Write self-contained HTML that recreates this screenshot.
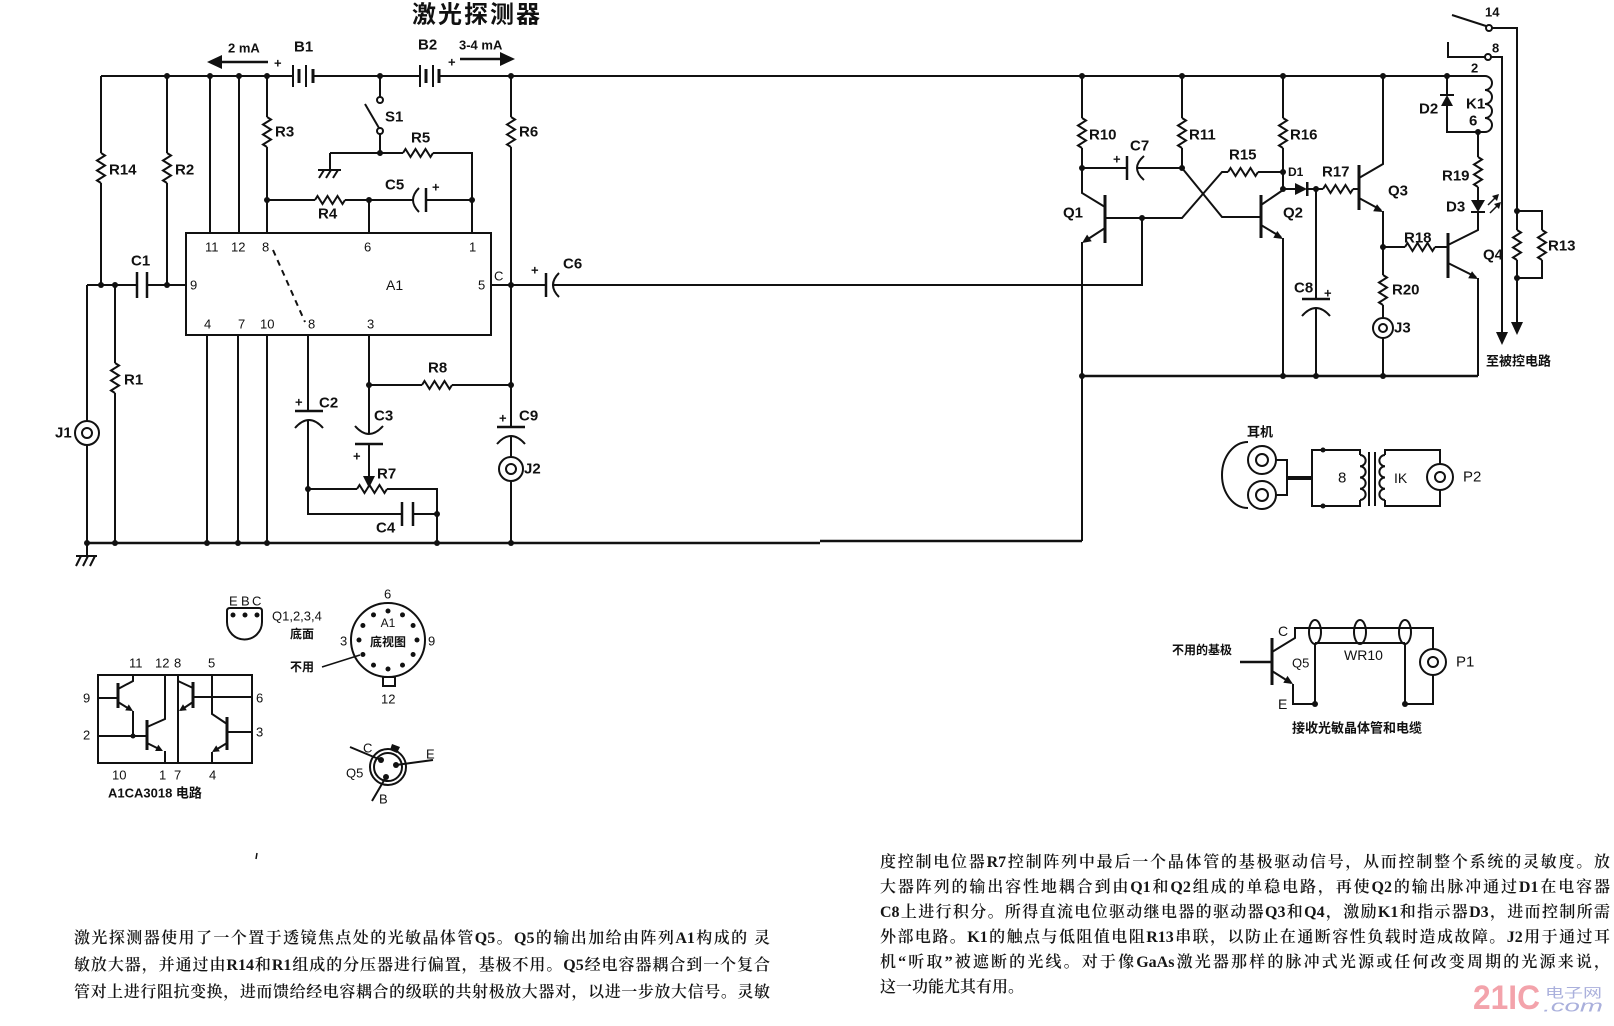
<!DOCTYPE html>
<html>
<head>
<meta charset="utf-8">
<style>
html,body{margin:0;padding:0;background:#fff;}
body{width:1614px;height:1026px;position:relative;overflow:hidden;}
svg{position:absolute;left:0;top:0;}
svg text{dominant-baseline:central;font-family:"Liberation Sans","Noto Sans CJK SC",sans-serif;fill:#111;}
.lb{font-size:15px;font-weight:bold;}
.pn{font-size:13px;}
.cj{font-size:12px;font-family:"Liberation Sans","Noto Sans CJK SC",sans-serif;font-weight:bold;}
.p{position:absolute;font-family:"Liberation Serif","Noto Serif CJK SC",serif;font-size:16px;line-height:20px;height:20px;text-align:justify;text-align-last:justify;font-weight:600;color:#151515;overflow:visible;}
.l{left:74px;width:696px;}
.r{left:880px;width:730px;}
</style>
</head>
<body>
<svg width="1614" height="1026" viewBox="0 0 1614 1026">
<!-- Title -->
<text x="412" y="12" style="font-size:24px;font-weight:bold;letter-spacing:2px;font-family:'Noto Sans CJK SC',sans-serif">激光探测器</text>

<g fill="none" stroke="#111" stroke-width="2">
<!-- top rail -->
<path d="M101,76 H293 M313,76 H420 M440,76 H1485"/>
<!-- batteries -->
<path d="M293,65 V87 M306,65 V87 M420,65 V87 M433,65 V87"/>
<path d="M299,69 V83 M313,69 V83 M426,69 V83 M439,69 V83" stroke-width="3"/>
<!-- arrows lines -->
<path d="M222,62 H268 M460,59 H500" stroke-width="2.5"/>
<!-- R14 R2 -->
<path d="M101,76 V153 M101,183 V285 M167,76 V153 M167,183 V285"/>
<path d="M101,153 L105,155.5 L97,160.5 L105,165.5 L97,170.5 L105,175.5 L97,180.5 L101,183"/>
<path d="M167,153 L171,155.5 L163,160.5 L171,165.5 L163,170.5 L171,175.5 L163,180.5 L167,183"/>
<!-- pins 11 12 -->
<path d="M210,76 V233 M239,76 V233"/>
<!-- R3 -->
<path d="M267,76 V117 M267,147 V233"/>
<path d="M267,117 L271,119.5 L263,124.5 L271,129.5 L263,134.5 L271,139.5 L263,144.5 L267,147"/>
<!-- S1 -->
<path d="M380,76 V97 M380,134 V153 M379,128 L365,104"/>
<circle cx="380" cy="100" r="3" fill="#fff"/>
<circle cx="380" cy="131" r="3" fill="#fff"/>
<!-- R5 row -->
<path d="M330,153 H403 M433,153 H472 V233"/>
<path d="M403,153 L405.5,149 L410.5,157 L415.5,149 L420.5,157 L425.5,149 L430.5,157 L433,153"/>
<!-- ground at S1 -->
<path d="M330,153 V170 M318,170 H341 M324,170 L319,178 M331,170 L326,178 M338,170 L333,178"/>
<!-- R4 row / C5 -->
<path d="M267,200 H315 M345,200 H413 M426,200 H472"/>
<path d="M315,200 L317.5,196 L322.5,204 L327.5,196 L332.5,204 L337.5,196 L342.5,204 L345,200"/>
<path d="M419,188 Q407,200 419,212"/>
<path d="M426,188 V212" stroke-width="2.5"/>
<path d="M369,200 V233"/>
<!-- R6 column -->
<path d="M511,76 V117 M511,147 V427 M511,436 V457 M511,481 V543"/>
<path d="M511,117 L515,119.5 L507,124.5 L515,129.5 L507,134.5 L515,139.5 L507,144.5 L511,147"/>
<!-- A1 box -->
<rect x="186" y="233" width="305" height="102"/>
<path d="M273,250 L305,322" stroke-dasharray="6,5"/>
<!-- pin 9 row / C1 -->
<path d="M87,285 H137 M147,285 H186 M87,285 V421 M87,445 V543"/>
<path d="M137,272 V298 M147,272 V298" stroke-width="2.5"/>
<!-- J1 -->
<circle cx="87" cy="433" r="12"/>
<circle cx="87" cy="433" r="5"/>
<!-- R1 -->
<path d="M115,285 V363 M115,393 V543"/>
<path d="M115,363 L119,365.5 L111,370.5 L119,375.5 L111,380.5 L119,385.5 L111,390.5 L115,393"/>
<!-- pin5 / C6 -->
<path d="M491,285 H546 M553,285 H1142 V218"/>
<path d="M546,273 V297" stroke-width="2.5"/>
<path d="M559,273 Q547,285 559,297"/>
<!-- bottom pins -->
<path d="M207,335 V543 M238,335 V543 M267,335 V543"/>
<!-- pin 8 / C2 / C4 -->
<path d="M308,335 V411 M308,420 V514 H402 M413,514 H437"/>
<path d="M295,411 H323" stroke-width="2.5"/>
<path d="M295,428 Q309,412 323,428"/>
<path d="M402,502 V526 M413,502 V526" stroke-width="2.5"/>
<!-- pin 3 / C3 -->
<path d="M369,335 V434 M369,444 V478"/>
<path d="M355,426 Q369,442 383,426"/>
<path d="M355,444 H383" stroke-width="2.5"/>
<!-- R7 -->
<path d="M308,489 H357 M387,489 H437 V543"/>
<path d="M357,489 L359.5,485 L364.5,493 L369.5,485 L374.5,493 L379.5,485 L384.5,493 L387,489"/>
<!-- R8 -->
<path d="M369,385 H422 M452,385 H511"/>
<path d="M422,385 L424.5,381 L429.5,389 L434.5,381 L439.5,389 L444.5,381 L449.5,389 L452,385"/>
<!-- C9 / J2 -->
<path d="M497,427 H525" stroke-width="2.5"/>
<path d="M497,444 Q511,428 525,444"/>
<circle cx="511" cy="469" r="12"/>
<circle cx="511" cy="469" r="5"/>
<!-- ground line -->
<path d="M87,543 H820 M820,541 H1082" stroke-width="2.5"/>
<path d="M87,543 V556 M76,556 H97 M81,556 L76,566 M88,556 L83,566 M95,556 L90,566"/>

<!-- RIGHT SECTION -->
<path d="M1082,76 V118 M1082,148 V193 L1105,207"/>
<path d="M1082,118 L1086,120.5 L1078,125.5 L1086,130.5 L1078,135.5 L1086,140.5 L1078,145.5 L1082,148"/>
<path d="M1105,228 L1085,241 M1082,242 V541"/>
<path d="M1105,218 H1182 L1222,172 H1228 M1258,172 H1283"/>
<path d="M1228,172 L1230.5,168 L1235.5,176 L1240.5,168 L1245.5,176 L1250.5,168 L1255.5,176 L1258,172"/>
<path d="M1182,76 V118 M1182,148 V168 L1222,217 H1261"/>
<path d="M1182,118 L1186,120.5 L1178,125.5 L1186,130.5 L1178,135.5 L1186,140.5 L1178,145.5 L1182,148"/>
<path d="M1082,168 H1127 M1137,168 H1182"/>
<path d="M1127,156 V180" stroke-width="2.5"/>
<path d="M1144,156 Q1130,168 1144,180"/>
<path d="M1283,76 V118 M1283,148 V189 H1295"/>
<path d="M1283,118 L1287,120.5 L1279,125.5 L1287,130.5 L1279,135.5 L1287,140.5 L1279,145.5 L1283,148"/>
<path d="M1261,205 L1283,190 M1261,225 L1281,237 M1283,238 V376"/>
<path d="M1307,189 H1323 M1353,189 H1359"/>
<path d="M1323,189 L1325.5,185 L1330.5,193 L1335.5,185 L1340.5,193 L1345.5,185 L1350.5,193 L1353,189"/>
<path d="M1316,189 V299 M1316,308 V376"/>
<path d="M1302,299 H1330" stroke-width="2.5"/>
<path d="M1302,316 Q1316,300 1330,316"/>
<path d="M1359,178 L1383,164 V76 M1359,198 L1381,210 M1383,211 V275 M1383,305 V318 M1383,338 V376"/>
<path d="M1383,275 L1387,277.5 L1379,282.5 L1387,287.5 L1379,292.5 L1387,297.5 L1379,302.5 L1383,305"/>
<circle cx="1383" cy="328" r="10"/>
<circle cx="1383" cy="328" r="4"/>
<path d="M1383,247 H1405 M1435,247 H1448"/>
<path d="M1405,247 L1407.5,243 L1412.5,251 L1417.5,243 L1422.5,251 L1427.5,243 L1432.5,251 L1435,247"/>
<path d="M1448,245 L1478,230 V212 M1448,263 L1476,277 M1478,278 V376"/>
<path d="M1082,376 H1478" stroke-width="2.5"/>
<path d="M1105,195 V243 M1261,195 V238 M1359,165 V210 M1448,233 V278" stroke-width="3"/>
<!-- K1 / D2 / R19 / D3 -->
<path d="M1447,76 V95 M1447,106 V132 H1485"/>
<path d="M1440,95 H1454"/>
<path d="M1478,132 V157 M1478,187 V200"/>
<path d="M1478,157 L1482,159.5 L1474,164.5 L1482,169.5 L1474,174.5 L1482,179.5 L1474,184.5 L1478,187"/>
<path d="M1471,212 H1485"/>
<path d="M1485,76 a7,7 0 0 1 0,14 a7,7 0 0 1 0,14 a7,7 0 0 1 0,14 a7,7 0 0 1 0,14"/>
<path d="M1488,205 L1496,197 M1490,213 L1498,205" stroke-width="1.5"/>
<!-- relay contacts -->
<path d="M1452,15 L1486,26 M1492,28 H1517 V230 M1517,260 V322"/>
<path d="M1517,211 H1542 V230 M1542,260 V278 H1517"/>
<path d="M1517,230 L1521,232.5 L1513,237.5 L1521,242.5 L1513,247.5 L1521,252.5 L1513,257.5 L1517,260"/>
<path d="M1542,230 L1546,232.5 L1538,237.5 L1546,242.5 L1538,247.5 L1546,252.5 L1538,257.5 L1542,260"/>
<path d="M1448,42 V57 H1485 M1491,57 H1502 V333"/>
<circle cx="1489" cy="28" r="3" fill="#fff"/>
<circle cx="1488" cy="57" r="3" fill="#fff"/>

<!-- EBC package -->
<path d="M227,611 V622 A17.5,17.5 0 0 0 262,622 V611 Q262,608 259,608 H230 Q227,608 227,611 Z"/>
<!-- A1 base view -->
<circle cx="388" cy="640" r="37"/>
<rect x="383" y="677" width="12" height="9"/>
<path d="M322,667 L360,655" stroke-width="1.5"/>
<!-- Q5 package -->
<circle cx="388" cy="767" r="18"/>
<circle cx="388" cy="767" r="14"/>
<path d="M350,747 L381,760 M433,760 L396,765 M372,801 L386,777"/>
<!-- CA3018 -->
<rect x="98" y="675" width="154" height="88"/>
<path d="M98,698 H118 M118,689 L133,681 V675 M118,702 L131,710 M133,711 V736"/>
<path d="M98,736 H147 M147,727 L165,719 V675 M147,743 L161,750 M165,751 V763"/>
<path d="M178,675 V763"/>
<path d="M193,697 H252 M193,688 L178,681 M193,702 L181,710"/>
<path d="M227,732 H252 M227,724 L212,714 V675 M227,743 L214,751 M212,752 V763"/>
<path d="M118,683 V708 M147,720 V750 M193,682 V708 M227,717 V750" stroke-width="3"/>

<!-- Headphones -->
<path d="M1248,442 A26,33 0 0 0 1248,508"/>
<circle cx="1262" cy="460" r="14" fill="#fff"/>
<circle cx="1262" cy="460" r="6"/>
<circle cx="1262" cy="495" r="14" fill="#fff"/>
<circle cx="1262" cy="495" r="6"/>
<path d="M1276,460 H1287 V495 H1276"/>
<path d="M1287,478 H1312" stroke-width="4"/>
<path d="M1360,455 V450 H1312 V506 H1360 V500"/>
<path d="M1360,455 a5.625,5.625 0 0 1 0,11.25 a5.625,5.625 0 0 1 0,11.25 a5.625,5.625 0 0 1 0,11.25 a5.625,5.625 0 0 1 0,11.25"/>
<path d="M1369,452 V506 M1375,452 V506"/>
<path d="M1385,455 V450 H1440 V464 M1440,490 V506 H1385 V500"/>
<path d="M1385,455 a5.625,5.625 0 0 0 0,11.25 a5.625,5.625 0 0 0 0,11.25 a5.625,5.625 0 0 0 0,11.25 a5.625,5.625 0 0 0 0,11.25"/>
<circle cx="1440" cy="477" r="13" fill="#fff"/>
<circle cx="1440" cy="477" r="5"/>

<!-- Q5 receiver -->
<path d="M1240,662 H1272" stroke-width="2.5"/>
<path d="M1272,638 V685" stroke-width="3"/>
<path d="M1272,652 L1295,638 V628 H1433 V649 M1433,675 V704 H1405 V643 M1315,643 H1405 M1315,643 V704 M1272,671 L1291,683 M1293,684 V704 H1315"/>
<ellipse cx="1315" cy="632" rx="6" ry="12"/>
<ellipse cx="1360" cy="632" rx="6" ry="12"/>
<ellipse cx="1405" cy="632" rx="6" ry="12"/>
<circle cx="1433" cy="662" r="13" fill="#fff"/>
<circle cx="1433" cy="662" r="5"/>
<path d="M257,853 L256,859" stroke-width="1.5"/>
</g>

<!-- filled shapes: arrows, dots, diodes -->
<g fill="#111" stroke="none">
<polygon points="207,62 222,55 222,69"/>
<polygon points="515,59 500,52 500,66"/>
<polygon points="363,476 375,476 369,488"/>
<polygon points="1496,332 1508,332 1502,345"/>
<polygon points="1511,322 1523,322 1517,335"/>
<polygon points="1082,243 1091.7,241.2 1087.1,234.6"/>
<polygon points="1283,239 1273.3,237.8 1277.3,231"/>
<polygon points="1383,212 1373.2,211.2 1377,204.2"/>
<polygon points="1478,279 1468.2,278.3 1472,271.3"/>
<polygon points="1295,183 1295,195 1307,189"/>
<rect x="1306" y="182" width="2.5" height="14"/>
<polygon points="1441,106 1453,106 1447,95"/>
<polygon points="1471,200 1485,200 1478,212"/>
<polygon points="1499,194 1492,196 1497,201"/>
<polygon points="1501,202 1494,204 1499,209"/>
<polygon points="133,711 125.2,710.4 128.8,704.4"/>
<polygon points="163,751 155.1,751 158.3,744.8"/>
<polygon points="179,711 186.8,710.2 183,704.3"/>
<polygon points="212,752 219.8,751.4 216.2,745.4"/>
<polygon points="1293,684 1283.3,682.7 1287.5,675.9"/>
<polygon points="392,744 400,747 397,753 390,750"/>
<!-- dots -->
<circle cx="167" cy="76" r="3"/><circle cx="210" cy="76" r="3"/><circle cx="239" cy="76" r="3"/>
<circle cx="267" cy="76" r="3"/><circle cx="380" cy="76" r="3"/><circle cx="511" cy="76" r="3"/>
<circle cx="101" cy="285" r="3"/><circle cx="115" cy="285" r="3"/><circle cx="167" cy="285" r="3"/>
<circle cx="380" cy="153" r="3"/><circle cx="267" cy="200" r="3"/><circle cx="369" cy="200" r="3"/>
<circle cx="472" cy="200" r="3"/><circle cx="511" cy="285" r="3"/><circle cx="369" cy="385" r="3"/>
<circle cx="511" cy="385" r="3"/><circle cx="308" cy="489" r="3"/><circle cx="437" cy="514" r="3"/>
<circle cx="87" cy="543" r="3"/><circle cx="115" cy="543" r="3"/><circle cx="207" cy="543" r="3"/>
<circle cx="238" cy="543" r="3"/><circle cx="267" cy="543" r="3"/><circle cx="437" cy="543" r="3"/>
<circle cx="511" cy="543" r="3"/>
<circle cx="1082" cy="76" r="3"/><circle cx="1182" cy="76" r="3"/><circle cx="1283" cy="76" r="3"/>
<circle cx="1383" cy="76" r="3"/><circle cx="1447" cy="76" r="3"/><circle cx="1082" cy="168" r="3"/>
<circle cx="1182" cy="168" r="3"/><circle cx="1142" cy="218" r="3"/><circle cx="1283" cy="172" r="3"/>
<circle cx="1283" cy="189" r="3"/><circle cx="1316" cy="189" r="3"/><circle cx="1383" cy="247" r="3"/>
<circle cx="1478" cy="132" r="3"/><circle cx="1517" cy="211" r="3"/><circle cx="1517" cy="278" r="3"/>
<circle cx="1082" cy="376" r="3"/><circle cx="1283" cy="376" r="3"/><circle cx="1316" cy="376" r="3"/>
<circle cx="1383" cy="376" r="3"/>
<!-- EBC dots -->
<circle cx="233" cy="615" r="2.5"/><circle cx="245" cy="615" r="2.5"/><circle cx="257" cy="615" r="2.5"/>
<!-- A1 base view dots -->
<circle cx="388" cy="611" r="2.5"/><circle cx="402.5" cy="614.9" r="2.5"/><circle cx="413.1" cy="625.5" r="2.5"/>
<circle cx="417" cy="640" r="2.5"/><circle cx="413.1" cy="654.5" r="2.5"/><circle cx="402.5" cy="665.1" r="2.5"/>
<circle cx="388" cy="669" r="2.5"/><circle cx="373.5" cy="665.1" r="2.5"/><circle cx="362.9" cy="654.5" r="2.5"/>
<circle cx="359" cy="640" r="2.5"/><circle cx="362.9" cy="625.5" r="2.5"/><circle cx="373.5" cy="614.9" r="2.5"/>
<!-- Q5 package dots -->
<circle cx="381" cy="760" r="3"/><circle cx="396" cy="765" r="3"/><circle cx="386" cy="777" r="3"/>
<!-- CA3018 junction -->
<circle cx="133" cy="736" r="2.5"/>
<!-- headphone / receiver dots -->
<circle cx="1323" cy="450" r="2.5"/><circle cx="1323" cy="506" r="2.5"/>
<circle cx="1315" cy="704" r="3"/><circle cx="1405" cy="704" r="3"/>
</g>

<!-- Labels left -->
<g class="lb">
<text x="228" y="48" style="font-size:13px">2 mA</text>
<text x="459" y="45" style="font-size:13px">3-4 mA</text>
<text x="294" y="47">B1</text>
<text x="418" y="45">B2</text>
<text x="274" y="63" style="font-size:13px">+</text>
<text x="448" y="62" style="font-size:13px">+</text>
<text x="109" y="170">R14</text>
<text x="175" y="170">R2</text>
<text x="275" y="132">R3</text>
<text x="385" y="117">S1</text>
<text x="411" y="138">R5</text>
<text x="318" y="214">R4</text>
<text x="385" y="185">C5</text>
<text x="432" y="187" style="font-size:13px">+</text>
<text x="519" y="132">R6</text>
<text x="131" y="261">C1</text>
<text x="386" y="285" style="font-size:14px;font-weight:normal">A1</text>
<text x="494" y="276" style="font-size:13px;font-weight:normal">C</text>
<text x="563" y="264">C6</text>
<text x="531" y="270" style="font-size:13px">+</text>
<text x="428" y="368">R8</text>
<text x="319" y="403">C2</text>
<text x="295" y="402" style="font-size:13px">+</text>
<text x="374" y="416">C3</text>
<text x="353" y="456" style="font-size:13px">+</text>
<text x="377" y="474">R7</text>
<text x="376" y="528">C4</text>
<text x="519" y="416">C9</text>
<text x="499" y="418" style="font-size:13px">+</text>
<text x="524" y="469">J2</text>
<text x="124" y="380">R1</text>
<text x="55" y="433">J1</text>
</g>
<g class="pn">
<text x="205" y="247">11</text>
<text x="231" y="247">12</text>
<text x="262" y="247">8</text>
<text x="364" y="247">6</text>
<text x="469" y="247">1</text>
<text x="190" y="285">9</text>
<text x="478" y="285">5</text>
<text x="204" y="324">4</text>
<text x="238" y="324">7</text>
<text x="260" y="324">10</text>
<text x="308" y="324">8</text>
<text x="367" y="324">3</text>
</g>

<!-- Labels right -->
<g class="lb">
<text x="1089" y="135">R10</text>
<text x="1189" y="135">R11</text>
<text x="1290" y="135">R16</text>
<text x="1130" y="146">C7</text>
<text x="1113" y="159" style="font-size:13px">+</text>
<text x="1229" y="155">R15</text>
<text x="1288" y="172" style="font-size:12px">D1</text>
<text x="1322" y="172">R17</text>
<text x="1063" y="213">Q1</text>
<text x="1283" y="213">Q2</text>
<text x="1388" y="191">Q3</text>
<text x="1294" y="288">C8</text>
<text x="1324" y="293" style="font-size:13px">+</text>
<text x="1404" y="238">R18</text>
<text x="1392" y="290">R20</text>
<text x="1394" y="328">J3</text>
<text x="1483" y="255">Q4</text>
<text x="1442" y="176">R19</text>
<text x="1446" y="207">D3</text>
<text x="1419" y="109">D2</text>
<text x="1466" y="104">K1</text>
<text x="1471" y="68" style="font-size:13px">2</text>
<text x="1469" y="121">6</text>
<text x="1485" y="12" style="font-size:13px">14</text>
<text x="1492" y="48" style="font-size:13px">8</text>
<text x="1548" y="246">R13</text>
<text x="1486" y="361" class="cj" style="font-size:13px">至被控电路</text>
</g>

<!-- Sub diagrams labels -->
<g class="pn">
<text x="229" y="601">E</text>
<text x="241" y="601">B</text>
<text x="252" y="601">C</text>
<text x="272" y="616">Q1,2,3,4</text>
<text x="290" y="634" class="cj">底面</text>
<text x="384" y="594">6</text>
<text x="340" y="641">3</text>
<text x="428" y="641">9</text>
<text x="388" y="623" style="text-anchor:middle;font-size:12px">A1</text>
<text x="388" y="642" style="text-anchor:middle" class="cj">底视图</text>
<text x="381" y="699">12</text>
<text x="290" y="667" class="cj">不用</text>
<text x="363" y="748">C</text>
<text x="426" y="754">E</text>
<text x="346" y="773">Q5</text>
<text x="379" y="799">B</text>
<text x="129" y="663">11</text>
<text x="155" y="663">12</text>
<text x="174" y="663">8</text>
<text x="208" y="663">5</text>
<text x="83" y="698">9</text>
<text x="83" y="735">2</text>
<text x="256" y="698">6</text>
<text x="256" y="732">3</text>
<text x="112" y="775">10</text>
<text x="159" y="775">1</text>
<text x="174" y="775">7</text>
<text x="209" y="775">4</text>
<text x="108" y="793" class="cj" style="font-size:13px">A1CA3018 电路</text>
<text x="1247" y="432" class="cj" style="font-size:13px">耳机</text>
<text x="1338" y="478" style="font-size:15px">8</text>
<text x="1394" y="478" style="font-size:14px">IK</text>
<text x="1463" y="477" style="font-size:15px">P2</text>
<text x="1172" y="650" class="cj">不用的基极</text>
<text x="1278" y="631" style="font-size:14px">C</text>
<text x="1278" y="704" style="font-size:14px">E</text>
<text x="1292" y="663" style="font-size:13px">Q5</text>
<text x="1344" y="655" style="font-size:14px">WR10</text>
<text x="1456" y="662" style="font-size:15px">P1</text>
<text x="1292" y="728" class="cj" style="font-size:13px">接收光敏晶体管和电缆</text>
</g>

<!-- watermark -->
<text x="1473" y="998" style="font-size:34px;font-weight:bold;fill:#f3a3ab" textLength="67" lengthAdjust="spacingAndGlyphs">21IC</text>
<text x="1545" y="992" style="font-size:13px;fill:#aab0dc;font-family:'Noto Sans CJK SC',sans-serif" textLength="57" lengthAdjust="spacingAndGlyphs">电子网</text>
<text x="1543" y="1006" style="font-size:17px;font-style:italic;fill:#aab0dc" textLength="60" lengthAdjust="spacingAndGlyphs">.com</text>
</svg>

<div class="p l" style="top:929px">激光探测器使用了一个置于透镜焦点处的光敏晶体管Q5。Q5的输出加给由阵列A1构成的 灵</div>
<div class="p l" style="top:956px">敏放大器，并通过由R14和R1组成的分压器进行偏置，基极不用。Q5经电容器耦合到一个复合</div>
<div class="p l" style="top:983px">管对上进行阻抗变换，进而馈给经电容耦合的级联的共射极放大器对，以进一步放大信号。灵敏</div>

<div class="p r" style="top:853px">度控制电位器R7控制阵列中最后一个晶体管的基极驱动信号，从而控制整个系统的灵敏度。放</div>
<div class="p r" style="top:878px">大器阵列的输出容性地耦合到由Q1和Q2组成的单稳电路，再使Q2的输出脉冲通过D1在电容器</div>
<div class="p r" style="top:903px">C8上进行积分。所得直流电位驱动继电器的驱动器Q3和Q4，激励K1和指示器D3，进而控制所需</div>
<div class="p r" style="top:928px">外部电路。K1的触点与低阻值电阻R13串联，以防止在通断容性负载时造成故障。J2用于通过耳</div>
<div class="p r" style="top:953px">机“听取”被遮断的光线。对于像GaAs激光器那样的脉冲式光源或任何改变周期的光源来说，</div>
<div class="p r" style="top:978px;text-align-last:left">这一功能尤其有用。</div>
</body>
</html>
